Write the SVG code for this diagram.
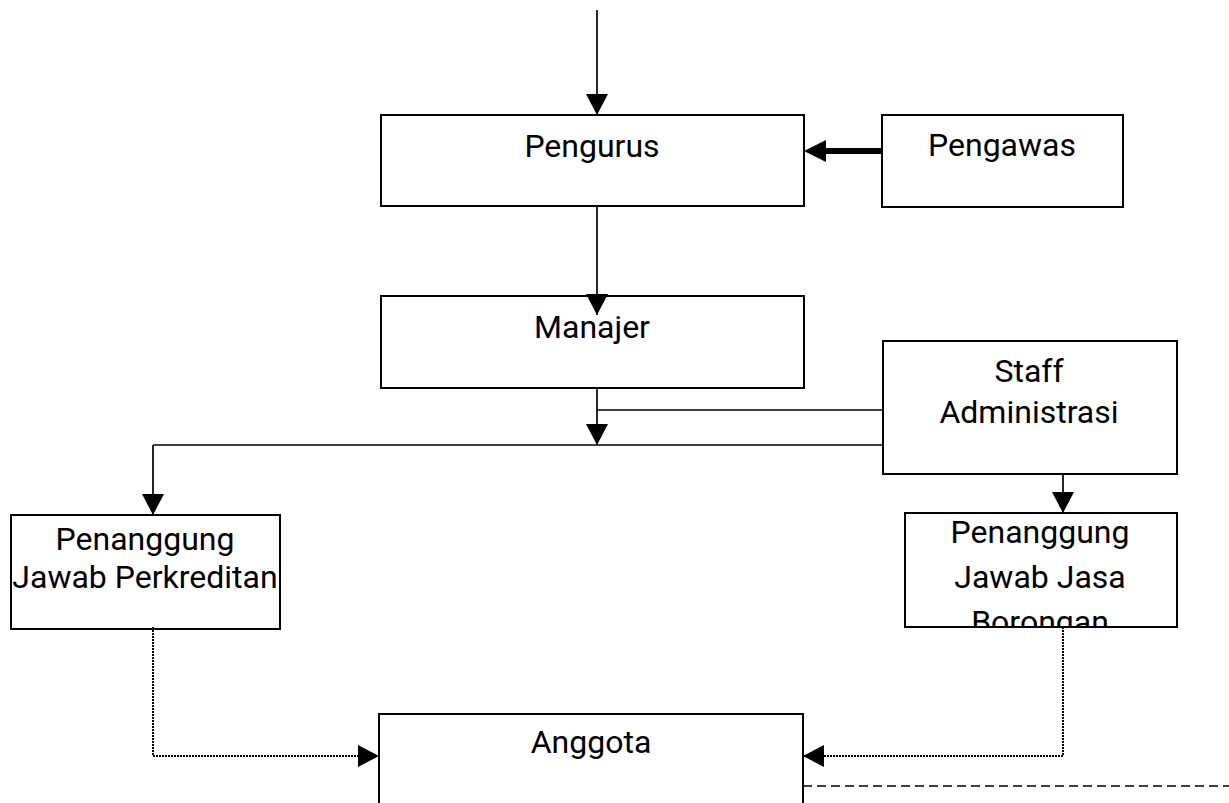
<svg xmlns="http://www.w3.org/2000/svg" width="1229" height="803" viewBox="0 0 1229 803">
<style>
.box{fill:#fff;stroke:#000;stroke-width:2}
.t{font-family:Roboto,"Liberation Sans",sans-serif;font-size:32px;fill:#000;text-anchor:middle}
.c{fill:none;stroke:#000;stroke-width:1.7}
.dot{fill:none;stroke:#000;stroke-width:2;stroke-dasharray:2 1}
.dash{fill:none;stroke:#000;stroke-width:1.5;stroke-dasharray:9 5}
.thick{fill:none;stroke:#000;stroke-width:6}
</style>
<defs>
<marker id="ah" markerWidth="22" markerHeight="22" refX="21" refY="11" orient="auto" markerUnits="userSpaceOnUse" viewBox="0 0 22 22">
<path d="M0,0 L21,11 L0,22 Z" fill="#000"/>
</marker>
<clipPath id="clipJasa"><rect x="905" y="513" width="272" height="114"/></clipPath>
</defs>
<g id="pengurus">
<rect class="box" x="381" y="115" width="423" height="91"/>
<text class="t" x="592" y="157">Pengurus</text>
</g>
<g id="pengawas">
<rect class="box" x="882" y="115" width="241" height="92"/>
<text class="t" x="1002" y="156">Pengawas</text>
</g>
<g id="manajer">
<rect class="box" x="381" y="296" width="423" height="92"/>
<text class="t" x="592" y="338">Manajer</text>
</g>
<g id="staff">
<rect class="box" x="883" y="341" width="294" height="133"/>
<text class="t" x="1029" y="382">Staff</text>
<text class="t" x="1029" y="423">Administrasi</text>
</g>
<g id="perkreditan">
<rect class="box" x="11" y="515" width="269" height="114"/>
<text class="t" x="145" y="550">Penanggung</text>
<text class="t" x="145" y="588">Jawab Perkreditan</text>
</g>
<g id="jasa">
<rect class="box" x="905" y="513" width="272" height="114"/>
<g clip-path="url(#clipJasa)">
<text class="t" x="1040" y="543">Penanggung</text>
<text class="t" x="1040" y="588">Jawab Jasa</text>
<text class="t" x="1040" y="633">Borongan</text>
</g>
</g>
<g id="anggota">
<rect class="box" x="379" y="714" width="424" height="100"/>
<text class="t" x="591" y="753">Anggota</text>
</g>
<g id="connectors">
<path class="c" d="M597,10 V115" marker-end="url(#ah)"/>
<path class="c" d="M597,206 V315" marker-end="url(#ah)"/>
<path class="thick" d="M882,151 H822"/>
<path d="M804,151 L826,140 L826,162 Z" fill="#000"/>
<path class="c" d="M597,388 V445" marker-end="url(#ah)"/>
<path class="c" d="M597,410 H883"/>
<path class="c" d="M153,445 H883"/>
<path class="c" d="M153,445 V515" marker-end="url(#ah)"/>
<path class="c" d="M1063,474 V513" marker-end="url(#ah)"/>
<path class="dot" d="M153,627 V756 H379" marker-end="url(#ah)"/>
<path class="dot" d="M1063,627 V756 H803" marker-end="url(#ah)"/>
<path class="dash" d="M803,786 H1229"/>
</g>
</svg>
